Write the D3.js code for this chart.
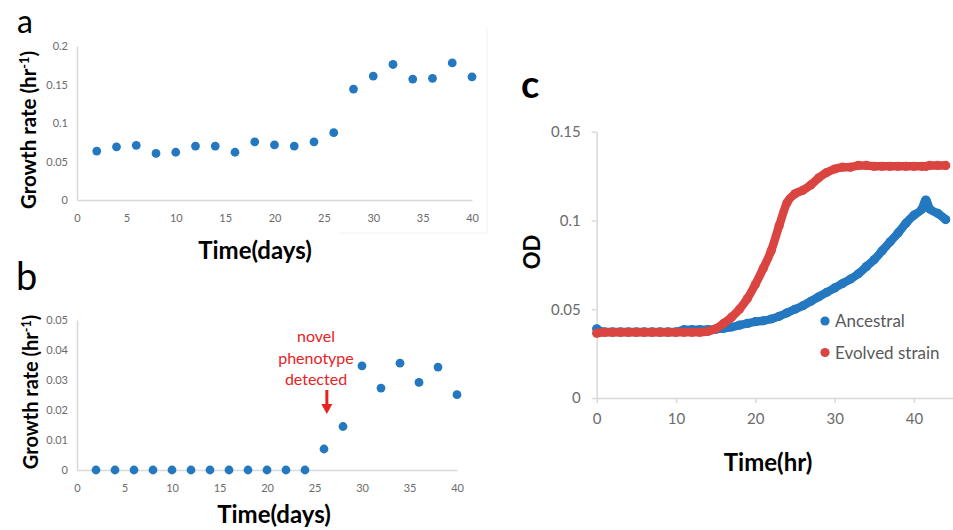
<!DOCTYPE html>
<html>
<head>
<meta charset="utf-8">
<script src="https://cdn.jsdelivr.net/npm/d3@7"></script>
<style>
  body { margin: 0; background: #fff; }
  svg { display: block; font-family: Lato, "Open Sans", sans-serif; }
</style>
</head>
<body>
<div id="fig"></div>
<script>
// panel a + b : growth rate per sampling day
var days = [2, 4, 6, 8, 10, 12, 14, 16, 18, 20, 22, 24, 26, 28, 30, 32, 34, 36, 38, 40];
var growthA = [0.0635, 0.069, 0.071, 0.0605, 0.062, 0.070, 0.070, 0.062, 0.0755, 0.0715, 0.070, 0.0755,
               0.0875, 0.144, 0.161, 0.176, 0.157, 0.158, 0.178, 0.160];
var growthB = [0, 0, 0, 0, 0, 0, 0, 0, 0, 0, 0, 0,
               0.007, 0.0145, 0.0347, 0.0273, 0.0356, 0.0292, 0.0343, 0.0251];

// panel c : OD curves
var hours = [0, 1, 2, 3, 4, 5, 6, 7, 8, 9, 10, 11, 12, 13, 14, 15, 16, 17, 18, 19, 20, 21, 22,
             23, 24, 25, 26, 27, 28, 29, 30, 31, 32, 33, 34, 35, 36, 37, 38, 39, 40, 41, 41.5, 42, 43, 44];
var ancestralOD = [0.039, 0.0372, 0.0372, 0.0372, 0.0372, 0.0372, 0.0372, 0.0372, 0.0372, 0.0372, 0.0372,
                   0.0385, 0.0385, 0.0385, 0.0385, 0.0387, 0.0392, 0.040, 0.041, 0.042, 0.043, 0.0435, 0.0445,
                   0.046, 0.048, 0.050, 0.052, 0.0545, 0.057, 0.0595, 0.062, 0.0645, 0.067, 0.070, 0.074,
                   0.078, 0.083, 0.088, 0.093, 0.0985, 0.103, 0.1065, 0.1115, 0.1065, 0.104, 0.1005];
var evolvedOD = [0.0365, 0.037, 0.037, 0.037, 0.037, 0.037, 0.037, 0.037, 0.037, 0.037, 0.037,
                 0.037, 0.037, 0.037, 0.0375, 0.039, 0.042, 0.0455, 0.050, 0.056, 0.064, 0.073, 0.083,
                 0.097, 0.110, 0.115, 0.117, 0.120, 0.124, 0.127, 0.129, 0.130, 0.130, 0.131, 0.131,
                 0.1305, 0.1305, 0.1305, 0.1305, 0.1305, 0.1305, 0.1305, 0.1305, 0.131, 0.131, 0.131];

var ticksDays = [0, 5, 10, 15, 20, 25, 30, 35, 40];
var ticksA = [0, 0.05, 0.1, 0.15, 0.2];
var ticksB = [0, 0.01, 0.02, 0.03, 0.04, 0.05];
var ticksHr = [0, 10, 20, 30, 40];
var ticksOD = [0, 0.05, 0.1, 0.15];

var blue = "#2378c0", red = "#da4541", axisCol = "#d9d9d9", tickTxt = "#6b6b6b";

var W = 953, H = 530;
var svg = d3.select("#fig").append("svg").attr("width", W).attr("height", H);

function styleAxis(g, size) {
    g.select(".domain").attr("stroke", axisCol).attr("stroke-width", 1.5);
    g.selectAll(".tick line").attr("stroke", axisCol).attr("stroke-width", 1.5);
    g.selectAll(".tick text").attr("fill", tickTxt).style("font-size", size + "px").style("font-family", "Lato, sans-serif");
}

function growthPanel(vals, yTicks, x0, x1, yTop, yBot) {
    var x = d3.scaleLinear().domain([0, 40]).range([x0, x1]);
    var y = d3.scaleLinear().domain([0, d3.max(yTicks)]).range([yBot, yTop]);
    var gx = svg.append("g").attr("transform", "translate(0," + yBot + ")")
        .call(d3.axisBottom(x).tickValues(ticksDays).tickSize(0).tickPadding(14).tickFormat(d3.format("d")));
    styleAxis(gx, 11);
    var gy = svg.append("g").attr("transform", "translate(" + x0 + ",0)")
        .call(d3.axisLeft(y).tickValues(yTicks).tickSize(0).tickPadding(9).tickFormat(function(d){ return String(d); }));
    styleAxis(gy, 11);
    svg.append("g").selectAll("circle")
        .data(vals)
        .enter()
        .append("circle")
        .attr("cx", function(d, i){ return x(days[i]); })
        .attr("cy", function(d){ return y(d); })
        .attr("r", 4.4)
        .attr("fill", blue);
    return {x: x, y: y};
}

function yTitle(cx, cy, size) {
    var t = svg.append("text")
        .attr("transform", "translate(" + cx + "," + cy + ") rotate(-90)")
        .attr("text-anchor", "middle")
        .style("font-size", size + "px").style("font-weight", "bold").attr("fill", "#000");
    t.append("tspan").text("Growth rate (hr");
    t.append("tspan").attr("dy", -7).style("font-size", (size * 0.62) + "px").text("-1");
    t.append("tspan").attr("dy", 7).text(")");
}

function bigLabel(txt, x, y, size, weight) {
    svg.append("text").attr("x", x).attr("y", y).text(txt)
        .style("font-size", size + "px").style("font-weight", weight)
        .style("font-family", "Lato, sans-serif").attr("fill", "#000");
}

// faint chart frame of panel a
svg.append("path").attr("d", "M487,28V233H340").attr("fill", "none").attr("stroke", "#f1f1f1");

// ---- panel a
var pa = growthPanel(growthA, ticksA, 77, 472, 46, 200);
bigLabel("a", 17, 33, 32, "normal");
yTitle(36, 130, 20.5);
svg.append("text").attr("x", 255).attr("y", 259).attr("text-anchor", "middle")
    .text("Time(days)").style("font-size", "24px").style("font-weight", "bold");

// ---- panel b
var pb = growthPanel(growthB, ticksB, 77, 457, 320, 470);
bigLabel("b", 16, 290, 38, "normal");
yTitle(38, 392, 20);
svg.append("text").attr("x", 274).attr("y", 523).attr("text-anchor", "middle")
    .text("Time(days)").style("font-size", "24px").style("font-weight", "bold");

// annotation
var note = svg.append("text").attr("text-anchor", "middle").attr("fill", "#e8231f")
    .style("font-size", "16px");
["novel", "phenotype", "detected"].forEach(function(s, i){
    note.append("tspan").attr("x", 316).attr("y", 342 + i * 21.5).text(s);
});
var ax = pb.x(26.3);
svg.append("line").attr("x1", ax).attr("x2", ax).attr("y1", 390).attr("y2", 405)
    .attr("stroke", "#e8231f").attr("stroke-width", 3);
svg.append("path").attr("d", "M" + (ax - 5.5) + ",404L" + (ax + 5.5) + ",404L" + ax + ",414Z").attr("fill", "#e8231f");

// ---- panel c
var xc = d3.scaleLinear().domain([0, 45]).range([596.7, 953.6]);
var yc = d3.scaleLinear().domain([0, 0.15]).range([398, 131.7]);
var gxc = svg.append("g").attr("transform", "translate(0,398)")
    .call(d3.axisBottom(xc).tickValues(ticksHr).tickSize(5).tickSizeOuter(0).tickPadding(10));
styleAxis(gxc, 15);
var gyc = svg.append("g").attr("transform", "translate(596.7,0)")
    .call(d3.axisLeft(yc).tickValues(ticksOD).tickSize(5).tickSizeOuter(0).tickPadding(11)
        .tickFormat(function(d){ return String(d); }));
styleAxis(gyc, 15);

var series = [
    {name: "Ancestral", vals: ancestralOD, color: blue},
    {name: "Evolved strain", vals: evolvedOD, color: red}
];
var line = d3.line()
    .x(function(d, i){ return xc(hours[i]); })
    .y(function(d){ return yc(d); })
    .curve(d3.curveMonotoneX);

series.forEach(function(s){
    svg.append("path").datum(s.vals).attr("d", line)
        .attr("fill", "none").attr("stroke", s.color)
        .attr("stroke-width", 8.5).attr("stroke-linecap", "round").attr("stroke-linejoin", "round");
    svg.append("g").selectAll("circle").data(s.vals).enter().append("circle")
        .attr("cx", function(d, i){ return xc(hours[i]); })
        .attr("cy", function(d){ return yc(d); })
        .attr("r", 4.6)
        .attr("fill", s.color);
});

bigLabel("c", 521, 98, 38, "bold");
svg.append("text").attr("transform", "translate(540,252) rotate(-90)").attr("text-anchor", "middle")
    .text("OD").style("font-size", "22px").style("font-weight", "bold");
svg.append("text").attr("x", 768).attr("y", 471).attr("text-anchor", "middle")
    .text("Time(hr)").style("font-size", "24px").style("font-weight", "bold");

// legend
series.forEach(function(s, i){
    var ly = 321 + i * 31.5;
    svg.append("circle").attr("cx", 825).attr("cy", ly).attr("r", 4.6).attr("fill", s.color);
    svg.append("text").attr("x", 835).attr("y", ly + 6).text(s.name)
        .attr("fill", "#595959").style("font-size", "17px");
});
</script>
</body>
</html>
